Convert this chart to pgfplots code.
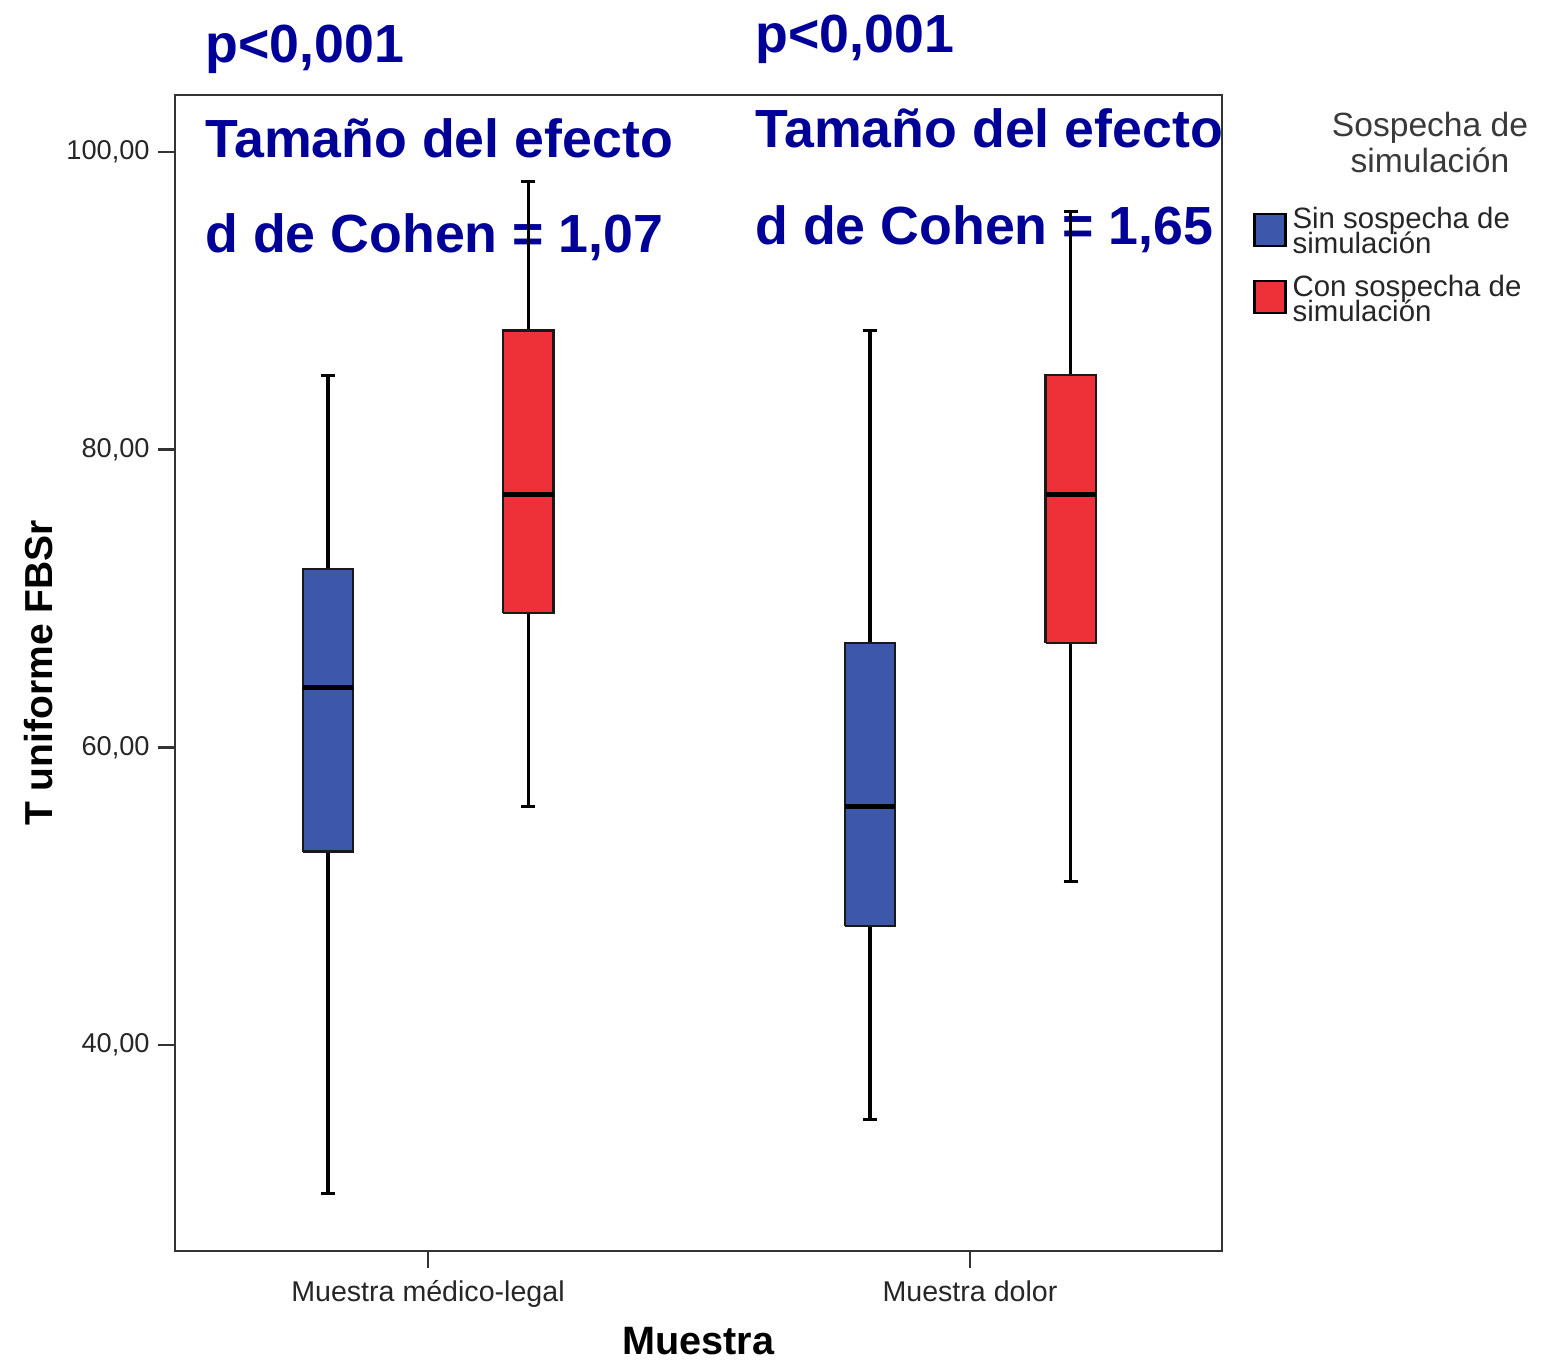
\documentclass[border=0pt]{standalone}
\usepackage{fontspec}
\setmainfont{Liberation Sans}
\usepackage{pgfplots}
\pgfplotsset{compat=1.18}
\definecolor{sinblue}{HTML}{3D57AA}
\definecolor{conred}{HTML}{EE3139}
\definecolor{annot}{HTML}{000099}
\definecolor{axgray}{HTML}{333333}
\definecolor{ttl}{HTML}{3A3A3A}
\begin{document}
\begin{tikzpicture}
\path[use as bounding box] (0,0) rectangle (777pt,680.5pt);
\begin{scope}[every node/.style={anchor=base west, inner sep=0pt, text=annot, font=\fontsize{26.85}{30}\selectfont\bfseries}]
\node at (102.5pt,649pt) {p<0,001};
\node at (102.5pt,601.5pt) {Tamaño del efecto};
\node at (102.5pt,554pt) {d de Cohen = 1,07};
\node at (377.5pt,654pt) {p<0,001};
\node at (377.5pt,606.5pt) {Tamaño del efecto};
\node at (377.5pt,558pt) {d de Cohen = 1,65};
\end{scope}
\begin{axis}[
  at={(87.5pt,55pt)}, anchor=south west, scale only axis,
  width=523.5pt, height=578pt,
  xmin=-0.4668, xmax=1.465, ymin=26.16, ymax=103.83,
  xtick={0,1}, xticklabels={Muestra médico-legal, Muestra dolor},
  ytick={40,60,80,100}, yticklabels={{40,00},{60,00},{80,00},{100,00}},
  tick pos=left, tick align=outside, major tick length=8.5pt,
  separate axis lines,
  axis line style={axgray, line width=1.4pt, line cap=rect},
  major tick style={axgray, line width=1.3pt},
  xticklabel style={font=\fontsize{14.3}{16}\selectfont, text=black!85, inner sep=0pt, anchor=north, yshift=-6pt},
  yticklabel style={font=\fontsize{13.6}{16}\selectfont, text=black!85, inner sep=0pt, anchor=east, xshift=-4pt},
  legend image code/.code={\draw[#1] (0pt,-6.75pt) rectangle (15.5pt,9.25pt);},
  legend cell align=left,
  legend style={at={(axis description cs:1,1)}, anchor=north west, xshift=15.5pt, yshift=-56pt,
    draw=none, fill=none, inner sep=0pt, row sep=9pt,
    nodes={align=left, font=\fontsize{14.7}{12.5}\selectfont, inner ysep=0pt, inner xsep=3pt, text=black!85}},
  whisk/.style={black, line width=1.6pt, forget plot},
  med/.style={black, line width=2.4pt, forget plot},
  bx/.style={draw=black!90, line width=1.1pt, forget plot},
]
% Muestra medico-legal, sin sospecha: whiskers 30-85, box 53-72, median 64 (x=-0.1845)
\addplot[whisk] coordinates {(-0.1845,30) (-0.1845,85)};
\addplot[whisk] coordinates {(-0.1975,30) (-0.1715,30)};
\addplot[whisk] coordinates {(-0.1975,85) (-0.1715,85)};
\addplot[bx, fill=sinblue] coordinates {(-0.231,53) (-0.138,53) (-0.138,72) (-0.231,72) (-0.231,53)};
\addplot[med] coordinates {(-0.231,64) (-0.138,64)};
% Muestra medico-legal, con sospecha: 56-98, box 69-88, median 77 (x=0.1851)
\addplot[whisk] coordinates {(0.1851,56) (0.1851,98)};
\addplot[whisk] coordinates {(0.1721,56) (0.1981,56)};
\addplot[whisk] coordinates {(0.1721,98) (0.1981,98)};
\addplot[bx, fill=conred] coordinates {(0.1386,69) (0.2316,69) (0.2316,88) (0.1386,88) (0.1386,69)};
\addplot[med] coordinates {(0.1386,77) (0.2316,77)};
% Muestra dolor, sin sospecha: 35-88, box 48-67, median 56 (x=0.8155)
\addplot[whisk] coordinates {(0.8155,35) (0.8155,88)};
\addplot[whisk] coordinates {(0.8025,35) (0.8285,35)};
\addplot[whisk] coordinates {(0.8025,88) (0.8285,88)};
\addplot[bx, fill=sinblue] coordinates {(0.769,48) (0.862,48) (0.862,67) (0.769,67) (0.769,48)};
\addplot[med] coordinates {(0.769,56) (0.862,56)};
% Muestra dolor, con sospecha: 51-96, box 67-85, median 77 (x=1.186)
\addplot[whisk] coordinates {(1.186,51) (1.186,96)};
\addplot[whisk] coordinates {(1.173,51) (1.199,51)};
\addplot[whisk] coordinates {(1.173,96) (1.199,96)};
\addplot[bx, fill=conred] coordinates {(1.1395,67) (1.2325,67) (1.2325,85) (1.1395,85) (1.1395,67)};
\addplot[med] coordinates {(1.1395,77) (1.2325,77)};
\addlegendimage{fill=sinblue, draw=black, line width=1.1pt}
\addlegendentry{Sin sospecha de\\[-2.3pt]simulación}
\addlegendimage{fill=conred, draw=black, line width=1.1pt}
\addlegendentry{Con sospecha de\\[-2.3pt]simulación}
\end{axis}
\node[anchor=base, inner sep=0pt, font=\fontsize{19.8}{22}\selectfont\bfseries] at (349.25pt,3pt) {Muestra};
\node[anchor=base, rotate=90, inner sep=0pt, font=\fontsize{19.5}{22}\selectfont\bfseries] at (26pt,344pt) {T uniforme FBSr};
\node[anchor=base, inner sep=0pt, text=ttl, font=\fontsize{16.8}{18}\selectfont] at (715pt,612pt) {Sospecha de};
\node[anchor=base, inner sep=0pt, text=ttl, font=\fontsize{16.8}{18}\selectfont] at (715pt,594pt) {simulación};
\end{tikzpicture}
\end{document}
